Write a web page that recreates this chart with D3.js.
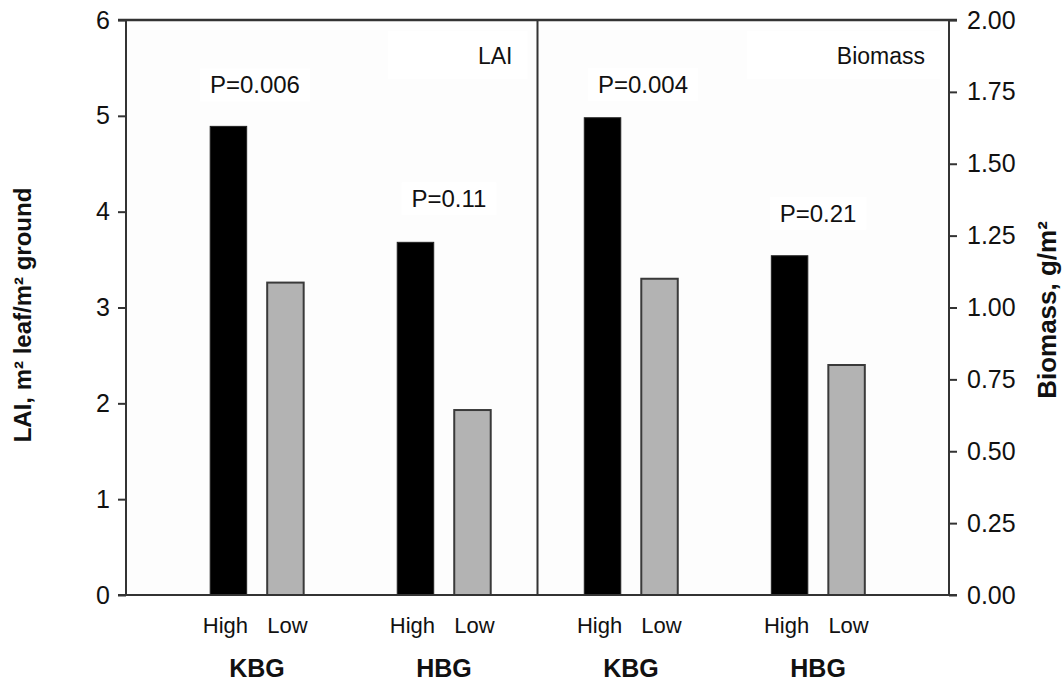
<!DOCTYPE html>
<html><head><meta charset="utf-8">
<script src="https://cdn.jsdelivr.net/npm/d3@7"></script>
<style>
body{margin:0;background:#fff;}
text{font-family:"Liberation Sans",Arial,Helvetica,sans-serif;fill:#111;}
</style></head>
<body><svg id="c" width="1064" height="684"></svg>
<script>
const groups = ["LAI-KBG","LAI-HBG","BIO-KBG","BIO-HBG"];
const groupLabels = ["KBG","HBG","KBG","HBG"];
const levels = ["High","Low"];
const laiHigh = [4.89, 3.68];
const laiLow = [3.26, 1.93];
const bioHigh = [1.66, 1.18];
const bioLow = [1.10, 0.80];
const pLabels = ["P=0.006","P=0.11","P=0.004","P=0.21"];
const leftTicks = [0,1,2,3,4,5,6];
const rightTicks = [0,0.25,0.5,0.75,1.0,1.25,1.5,1.75,2.0];

const svg = d3.select("#c");
const L = 126, R = 949, T = 20, B = 595;

const x0 = d3.scaleBand().domain(groups).range([L,R]).paddingInner(0).paddingOuter(0.2);
const bw = x0.bandwidth();
const x1 = d3.scaleBand().domain(levels).range([bw/2-57, bw/2+57]).paddingInner(0.36).paddingOuter(0.18);
const yL = d3.scaleLinear().domain([0,6]).range([B,T]);
const yR = d3.scaleLinear().domain([0,2]).range([B,T]);

svg.append("rect").attr("x",L).attr("y",T).attr("width",R-L).attr("height",B-T).attr("fill","#fdfdfd");

const rows = [];
groups.forEach((g,i)=>{
  const isLai = i<2, k = i%2;
  rows.push({g, lvl:"High", v: isLai?laiHigh[k]:bioHigh[k], y: isLai?yL:yR});
  rows.push({g, lvl:"Low", v: isLai?laiLow[k]:bioLow[k], y: isLai?yL:yR});
});

svg.selectAll("rect.bar").data(rows).join("rect").attr("class","bar")
  .attr("x",d=>x0(d.g)+x1(d.lvl))
  .attr("width",x1.bandwidth())
  .attr("y",d=>d.y(d.v))
  .attr("height",d=>B-d.y(d.v))
  .attr("fill",d=>d.lvl==="High"?"#000":"#b3b3b3")
  .attr("stroke",d=>d.lvl==="High"?"#222":"#3a3a3a")
  .attr("stroke-width",d=>d.lvl==="High"?1:2);

const pY = [yL(laiHigh[0]) - 33, yL(laiHigh[1]) - 35, yR(bioHigh[0]) - 25, yR(bioHigh[1]) - 34];
const pX = [x0(groups[0])+bw/2-2, x0(groups[1])+bw/2+5, x0(groups[2])+bw/2+12, x0(groups[3])+bw/2];
pLabels.forEach((t,i)=>{
  const g = svg.append("g");
  const tx = g.append("text").attr("x",pX[i]).attr("y",pY[i]).attr("text-anchor","middle")
    .style("font-size","24px").text(t);
  const bb = tx.node().getBBox();
  g.insert("rect","text").attr("x",bb.x-10).attr("y",bb.y-3).attr("width",bb.width+20).attr("height",bb.height+6).attr("fill","#fff");
});

[["LAI",x0(groups[1])+bw-25],["Biomass",R-24]].forEach(([t,xx])=>{
  const g = svg.append("g");
  const tx = g.append("text").attr("x",xx).attr("y",64).attr("text-anchor","end").style("font-size","23px").text(t);
  const bb = tx.node().getBBox();
  g.insert("rect","text").attr("x",bb.x-90).attr("y",bb.y-12).attr("width",bb.width+105).attr("height",bb.height+22).attr("fill","#fff");
});

const axL = d3.axisLeft(yL).tickValues(leftTicks).tickSize(8).tickPadding(8).tickFormat(d3.format("d"));
const axR = d3.axisRight(yR).tickValues(rightTicks).tickSize(8).tickPadding(10).tickFormat(d3.format(".2f"));
const gL = svg.append("g").attr("transform",`translate(${L},0)`).call(axL);
const gR = svg.append("g").attr("transform",`translate(${R},0)`).call(axR);
[gL,gR].forEach(g=>{
  g.select(".domain").remove();
  g.selectAll(".tick line").attr("stroke","#333").attr("stroke-width",2);
  g.selectAll(".tick text").style("font-size","25px").attr("fill","#111").style("font-family","Liberation Sans, Arial, sans-serif");
});

const lineC = "#333";
svg.append("line").attr("x1",L).attr("x2",L).attr("y1",T).attr("y2",B).attr("stroke",lineC).attr("stroke-width",2);
svg.append("line").attr("x1",R).attr("x2",R).attr("y1",T).attr("y2",B).attr("stroke",lineC).attr("stroke-width",2);
svg.append("line").attr("x1",L-8).attr("x2",R+8).attr("y1",T).attr("y2",T).attr("stroke",lineC).attr("stroke-width",2.5);
svg.append("line").attr("x1",L-8).attr("x2",R+8).attr("y1",B).attr("y2",B).attr("stroke",lineC).attr("stroke-width",2);
const divX = x0(groups[2]);
svg.append("line").attr("x1",divX).attr("x2",divX).attr("y1",T).attr("y2",B).attr("stroke",lineC).attr("stroke-width",2);

svg.selectAll("text.lvl").data(rows).join("text").attr("class","lvl")
  .attr("x",d=>x0(d.g)+x1(d.lvl)+x1.bandwidth()/2 + (d.lvl==="High"?-3:2))
  .attr("y",633).attr("text-anchor","middle").style("font-size","22px").text(d=>d.lvl);
svg.selectAll("text.grp").data(groups).join("text").attr("class","grp")
  .attr("x",d=>x0(d)+bw/2).attr("y",677).attr("text-anchor","middle")
  .style("font-size","25px").style("font-weight","bold").text((d,i)=>groupLabels[i]);

svg.append("text").attr("transform","translate(31,315) rotate(-90)").attr("text-anchor","middle")
  .style("font-size","24px").style("font-weight","bold").text("LAI, m² leaf/m² ground");
svg.append("text").attr("transform","translate(1056,310) rotate(-90)").attr("text-anchor","middle")
  .style("font-size","26px").style("font-weight","bold").text("Biomass, g/m²");
</script></body></html>
